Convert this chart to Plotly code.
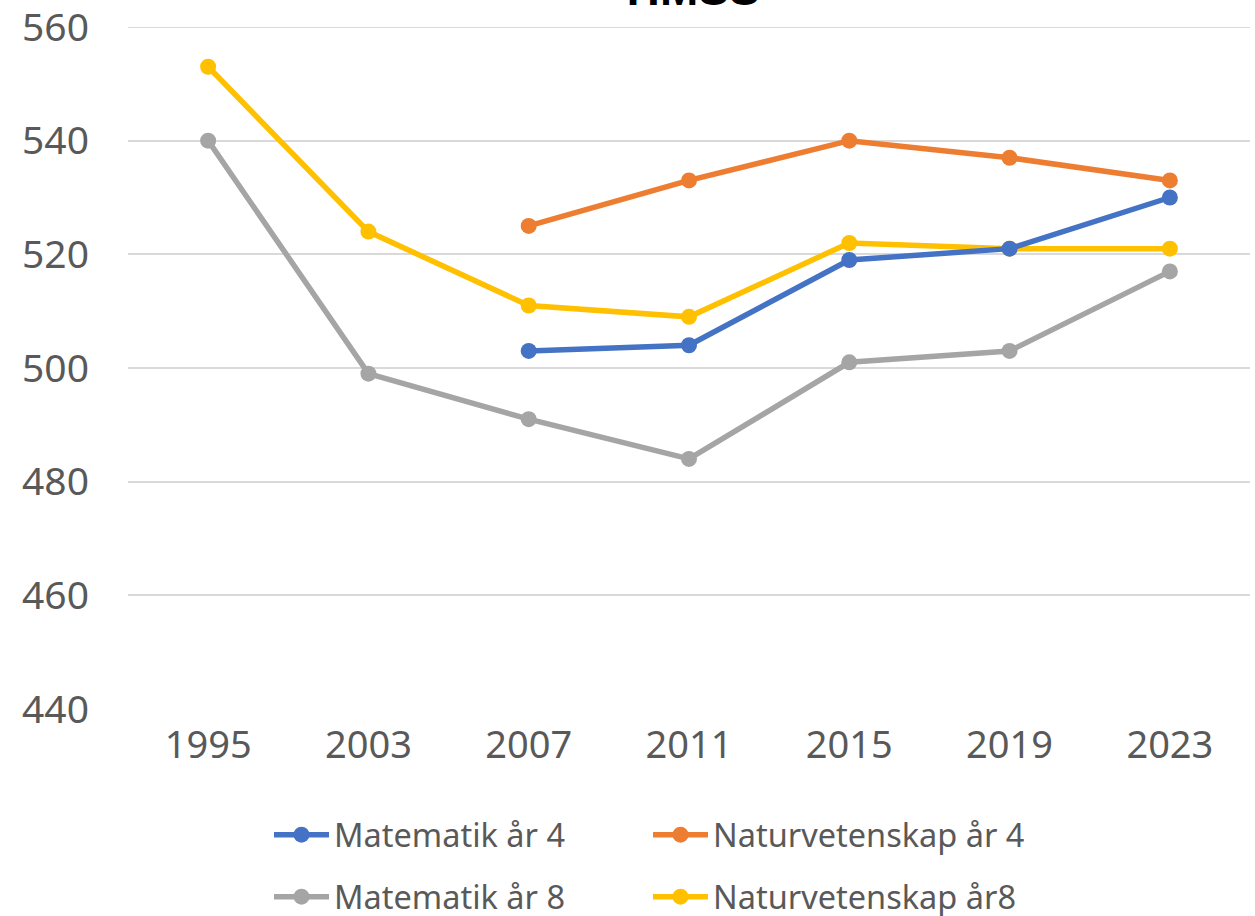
import plotly.graph_objects as go

years = ["1995", "2003", "2007", "2011", "2015", "2019", "2023"]
mat4 = [None, None, 503, 504, 519, 521, 530]
nat4 = [None, None, 525, 533, 540, 537, 533]
mat8 = [540, 499, 491, 484, 501, 503, 517]
nat8 = [553, 524, 511, 509, 522, 521, 521]

names = ["Matematik år 4", "Naturvetenskap år 4", "Matematik år 8", "Naturvetenskap år8"]
colors = ["#4472C4", "#ED7D31", "#A5A5A5", "#FFC000"]
series = [mat4, nat4, mat8, nat8]
legends = ["legend", "legend", "legend2", "legend2"]

fig = go.Figure()
for i in [2, 3, 0, 1]:
    fig.add_trace(go.Scatter(
        x=years, y=series[i], name=names[i], mode="lines+markers",
        line=dict(color=colors[i], width=5.5),
        marker=dict(color=colors[i], size=16),
        legend=legends[i], legendrank=i, connectgaps=False,
    ))

font_family = "Noto Sans"
leg_common = dict(orientation="h", x=(269 - 128) / 1122, xanchor="left",
                  yanchor="top", font=dict(size=32.5, color="#595959"), entrywidth=309,
                  entrywidthmode="pixels", itemwidth=55, traceorder="normal",
                  bgcolor="rgba(0,0,0,0)")
fig.update_layout(
    width=1255, height=916,
    margin=dict(l=128, r=5, t=27, b=207, autoexpand=False),
    plot_bgcolor="white", paper_bgcolor="white",
    font=dict(family=font_family, color="#595959"),
    xaxis=dict(type="category", range=[-0.5, 6.5], showgrid=False, showline=False,
               ticks="", tickfont=dict(size=38, color="#595959"), ticklabelstandoff=10),
    yaxis=dict(range=[440, 560], dtick=20, tick0=440, showgrid=True, gridcolor="#D9D9D9",
               gridwidth=2, zeroline=False, showline=False, ticks="",
               ticklabeloverflow="allow",
               tickfont=dict(size=39, color="#595959"), ticklabelstandoff=38),
    legend=dict(y=(709 - 807) / 682, **leg_common),
    legend2=dict(y=(709 - 869) / 682, **leg_common),
    shapes=[dict(type="line", xref="paper", yref="y", x0=0, x1=1, y0=560, y1=560,
                 line=dict(color="#D9D9D9", width=2), layer="below")],
    annotations=[dict(text="<b>TIMSS</b>", xref="paper", yref="paper", x=0.5, y=(709 - 17) / 682,
                      xanchor="center", yanchor="bottom", showarrow=False,
                      font=dict(size=46, color="#000000", family="Liberation Sans"))],
)

fig.write_html("out.html", config={"displayModeBar": False},
               post_script="document.body.style.margin='0';document.body.style.overflow='hidden';")
